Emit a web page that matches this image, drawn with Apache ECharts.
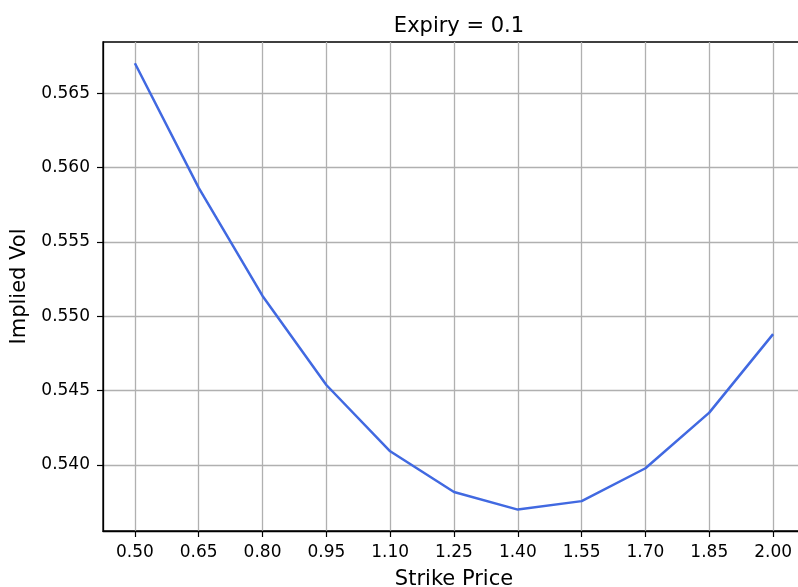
<!DOCTYPE html>
<html>
<head>
<meta charset="utf-8">
<script src="https://cdn.jsdelivr.net/npm/echarts@6/dist/echarts.min.js"></script>
<style>
html,body{margin:0;padding:0;background:#fff;}
#chart{width:798px;height:587px;}
</style>
</head>
<body>
<div id="chart"></div>
<script>
const strikes = [0.50, 0.65, 0.80, 0.95, 1.10, 1.25, 1.40, 1.55, 1.70, 1.85, 2.00];
const impliedVol = [0.56702, 0.55864, 0.55137, 0.54538, 0.54092, 0.53818, 0.53700, 0.53757, 0.53978, 0.54352, 0.54880];
const xTicks = [0.50, 0.65, 0.80, 0.95, 1.10, 1.25, 1.40, 1.55, 1.70, 1.85, 2.00];
const yTicks = [0.540, 0.545, 0.550, 0.555, 0.560, 0.565];
const titleText = 'Expiry = 0.1';
const xName = 'Strike Price';
const yName = 'Implied Vol';

const font = 'DejaVu Sans';
const chart = echarts.init(document.getElementById('chart'), null, {renderer: 'canvas'});
chart.setOption({
  animation: false,
  backgroundColor: '#fff',
  title: {
    text: titleText,
    left: 454, top: 11, textAlign: 'center',
    textStyle: {fontFamily: font, fontSize: 21, fontWeight: 'normal', color: '#000'}
  },
  grid: {
    left: 103, top: 42, width: 702, height: 489,
    containLabel: false, outerBoundsMode: 'none',
    show: true, borderColor: '#000', borderWidth: 1.3, backgroundColor: 'transparent'
  },
  xAxis: {
    type: 'value',
    min: 0.425, max: 2.075,
    name: xName, nameLocation: 'middle', nameGap: 38,
    nameTextStyle: {fontFamily: font, fontSize: 21, color: '#000'},
    axisLine: {show: true, lineStyle: {color: '#000', width: 1.3}},
    axisTick: {show: true, length: 6, inside: false, customValues: xTicks, lineStyle: {color: '#000', width: 1.2}},
    axisLabel: {show: true, customValues: xTicks, margin: 13, fontFamily: font, fontSize: 17, color: '#000',
      formatter: v => v.toFixed(2)},
    splitLine: {show: true, lineStyle: {color: '#b0b0b0', width: 1.3}}
  },
  yAxis: {
    type: 'value',
    min: 0.53556, max: 0.56845,
    name: yName, nameLocation: 'middle', nameGap: 70, nameRotate: 90,
    nameTextStyle: {fontFamily: font, fontSize: 21, color: '#000'},
    axisLine: {show: true, lineStyle: {color: '#000', width: 1.3}},
    axisTick: {show: true, length: 6, inside: false, customValues: yTicks, lineStyle: {color: '#000', width: 1.2}},
    axisLabel: {show: true, customValues: yTicks, margin: 13, fontFamily: font, fontSize: 17, color: '#000',
      padding: [3, 0, 0, 0],
      formatter: v => v.toFixed(3)},
    splitLine: {show: true, lineStyle: {color: '#b0b0b0', width: 1.3}}
  },
  series: [{
    type: 'line',
    data: strikes.map((s, i) => [s, impliedVol[i]]),
    showSymbol: false,
    symbol: 'none',
    lineStyle: {color: '#4169E1', width: 2.5},
    clip: true
  }]
});
</script>
</body>
</html>
